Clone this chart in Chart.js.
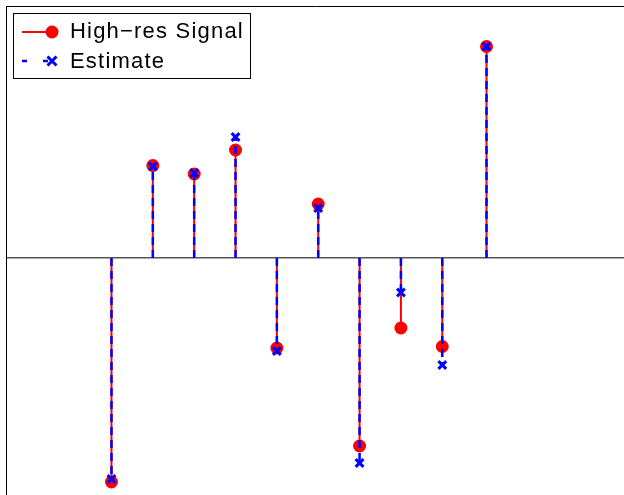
<!DOCTYPE html>
<html>
<head>
<meta charset="utf-8">
<script src="https://cdn.jsdelivr.net/npm/chart.js@4"></script>
<style>
  html, body { margin: 0; padding: 0; background: #fff; }
  #wrap { position: relative; width: 624px; height: 495px; }
</style>
</head>
<body>
<div id="wrap"><canvas id="stem" width="624" height="495"></canvas></div>
<script>
// sample positions and values
const samples = [1, 2, 3, 4, 5, 6, 7, 8, 9, 10.07];
const signal = [-2.24, 0.925, 0.84, 1.08, -0.90, 0.54, -1.88, -0.70, -0.885, 2.115];
const estimate = [-2.21, 0.915, 0.85, 1.21, -0.93, 0.50, -2.05, -0.345, -1.07, 2.115];
const seriesNames = ['High\u2212res Signal', 'Estimate'];

// a stem = base point, tip point, then a gap
const stems = (vals) => {
    let pts = [];
    vals.forEach((v, i) => {
        pts.push({ x: samples[i], y: 0 });
        pts.push({ x: samples[i], y: v });
        pts.push({ x: samples[i], y: null });
    });
    return pts;
};

const tipOnly = (r) => (ctx) => (ctx.index % 3 === 1 ? r : 0);

// legend box like the original, drawn on top of the plot
const boxLegend = {
    id: 'boxLegend',
    afterDraw(chart) {
        const c = chart.ctx;
        c.save();
        c.fillStyle = '#fff';
        c.fillRect(13, 13, 237, 65);
        c.strokeStyle = '#000';
        c.lineWidth = 1;
        c.strokeRect(13.5, 13.5, 237, 65);

        // red solid + dot
        c.strokeStyle = 'rgb(255,0,0)';
        c.lineWidth = 2;
        c.beginPath();
        c.moveTo(22, 32);
        c.lineTo(52, 32);
        c.stroke();
        c.fillStyle = 'rgb(255,0,0)';
        c.beginPath();
        c.arc(52, 32, 6.5, 0, Math.PI * 2);
        c.fill();

        // blue dashed + cross
        c.strokeStyle = 'rgb(0,0,255)';
        c.lineWidth = 2.5;
        c.setLineDash([5, 16]);
        c.beginPath();
        c.moveTo(22, 61);
        c.lineTo(52, 61);
        c.stroke();
        c.setLineDash([]);
        c.lineWidth = 3;
        c.beginPath();
        c.moveTo(47.5, 56.5); c.lineTo(56.5, 65.5);
        c.moveTo(56.5, 56.5); c.lineTo(47.5, 65.5);
        c.stroke();

        c.fillStyle = '#000';
        c.font = '22px "Liberation Sans", Arial, sans-serif';
        c.letterSpacing = '1.2px';
        c.textBaseline = 'middle';
        c.fillText(chart.data.datasets[0].label, 70, 32);
        c.fillText(chart.data.datasets[1].label, 70, 62);
        c.restore();
    }
};

new Chart(document.getElementById('stem'), {
    type: 'line',
    data: {
        datasets: [{
            label: seriesNames[0],
            data: stems(signal),
            borderColor: 'rgb(255,0,0)',
            borderWidth: 2,
            pointStyle: 'circle',
            pointRadius: tipOnly(6.5),
            pointBackgroundColor: 'rgb(255,0,0)',
            pointBorderColor: 'rgb(255,0,0)',
            pointBorderWidth: 0,
            spanGaps: false,
            order: 0
        }, {
            label: seriesNames[1],
            data: stems(estimate),
            borderColor: 'rgb(0,0,255)',
            borderWidth: 2.5,
            borderDash: [8, 5],
            pointStyle: 'crossRot',
            pointRadius: tipOnly(5.5),
            pointBorderColor: 'rgb(0,0,255)',
            pointBorderWidth: 3,
            spanGaps: false,
            order: -1
        }]
    },
    options: {
        responsive: false,
        animation: false,
        events: [],
        layout: { padding: { left: 6, top: 6, right: 0, bottom: 0 } },
        plugins: { legend: { display: false }, tooltip: { enabled: false } },
        scales: {
            x: {
                type: 'linear',
                position: 'top',
                min: -1.551,
                max: 13.395,
                ticks: { display: false },
                grid: { display: false, drawTicks: false },
                border: { display: true, color: '#000', width: 1 }
            },
            y: {
                min: -2.37,
                max: 2.52,
                afterBuildTicks: (axis) => { axis.ticks = [{ value: 0 }]; },
                ticks: { display: false },
                grid: { drawTicks: false, color: '#555', lineWidth: 1.5 },
                border: { display: true, color: '#000', width: 1 }
            }
        }
    },
    plugins: [boxLegend]
});
</script>
</body>
</html>
